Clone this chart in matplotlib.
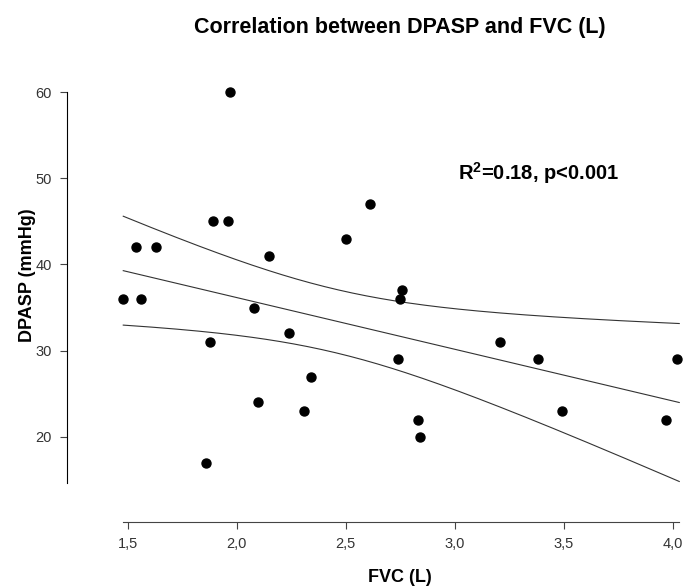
import matplotlib
matplotlib.use('Agg')
import matplotlib.pyplot as plt
import numpy as np

# data
fvc = [1.48, 1.56, 1.54, 1.63, 1.89, 1.96, 1.97, 2.15, 2.08,
       1.88, 2.24, 2.34, 2.10, 2.31, 1.86,
       2.61, 2.50, 2.76, 2.75, 2.74, 2.83, 2.84, 3.21, 3.38, 3.49, 3.97, 4.02]
dpasp = [36, 36, 42, 42, 45, 45, 60, 41, 35,
         31, 32, 27, 24, 23, 17,
         47, 43, 37, 36, 29, 22, 20, 31, 29, 23, 22, 29]
x_ticks = [1.5, 2.0, 2.5, 3.0, 3.5, 4.0]
x_tick_labels = ['1,5', '2,0', '2,5', '3,0', '3,5', '4,0']
y_ticks = [20, 30, 40, 50, 60]
t_crit = 2.06   # t(0.975, n-2)

plt.rcParams['font.family'] = ['Liberation Sans', 'DejaVu Sans']
plt.rcParams['mathtext.fontset'] = 'custom'
plt.rcParams['mathtext.bf'] = 'Liberation Sans:bold'
plt.rcParams['mathtext.rm'] = 'Liberation Sans:bold'

x = np.array(fvc)
y = np.array(dpasp)
n = len(x)

# linear fit + 95% confidence band
b, a = np.polyfit(x, y, 1)
resid = y - (a + b*x)
s = np.sqrt(np.sum(resid**2)/(n - 2))
sxx = np.sum((x - x.mean())**2)
xf = np.linspace(x.min(), 4.03, 200)
yf = a + b*xf
half = t_crit*s*np.sqrt(1.0/n + (xf - x.mean())**2/sxx)

fig = plt.figure(figsize=(6.83, 5.87), dpi=100)
ax = fig.add_axes([67/683, 65/587, 614/683, 430/587])

ax.plot(xf, yf, color='#333333', lw=0.8)
ax.plot(xf, yf + half, color='#333333', lw=0.8)
ax.plot(xf, yf - half, color='#333333', lw=0.8)
ax.scatter(x, y, s=42, color='black', zorder=3, clip_on=False)

ax.set_xlim(1.222, 4.038)
ax.set_ylim(10.14, 60.0)

for side in ['top', 'right']:
    ax.spines[side].set_visible(False)
ax.spines['left'].set_bounds(14.7, 60)
ax.spines['bottom'].set_bounds(1.479, 4.03)
ax.spines['left'].set_color('black')
ax.spines['bottom'].set_color('#444444')

ax.set_xticks(x_ticks)
ax.set_xticklabels(x_tick_labels)
ax.set_yticks(y_ticks)
ax.tick_params(axis='both', direction='out', length=5, width=0.8,
               labelsize=10.5, labelcolor='#333333', color='#444444')
ax.tick_params(axis='y', pad=6)
ax.tick_params(axis='x', pad=6)

fig.text(400/683, 1 - 33/587, 'Correlation between DPASP and FVC (L)',
         ha='center', va='baseline', fontsize=15.5, fontweight='bold')
fig.text(400/683, 1 - 582/587, 'FVC (L)', ha='center', va='baseline',
         fontsize=13, fontweight='bold')
fig.text(32/683, 1 - 275/587, 'DPASP (mmHg)', ha='center', va='baseline',
         rotation=90, rotation_mode='anchor', fontsize=13, fontweight='bold')
fig.text(458/683, 1 - 180/587, r'R$^{\mathbf{2}}$=0.18, p<0.001',
         ha='left', va='baseline', fontsize=14.5, fontweight='bold')

plt.savefig('out.png', dpi=100)
